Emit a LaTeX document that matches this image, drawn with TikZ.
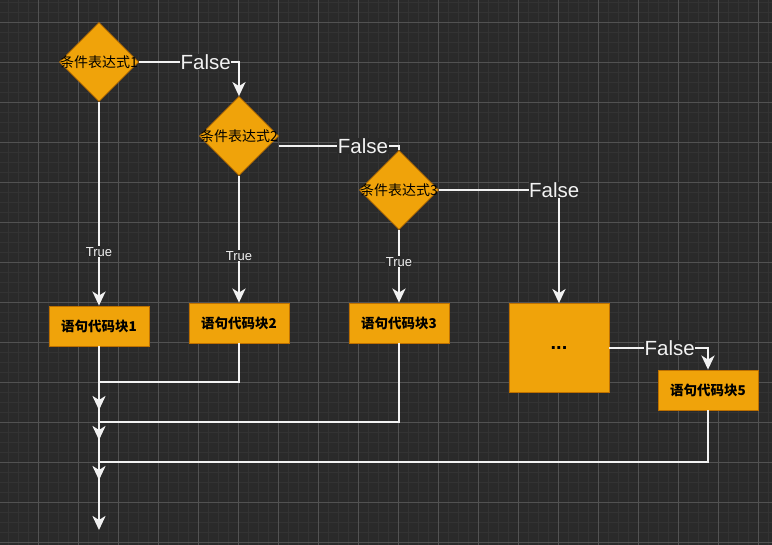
\documentclass[tikz,border=0pt]{standalone}
\usepackage{fontspec}
\setmainfont{Liberation Sans}
\newfontfamily\cjk{Noto Sans CJK SC}
\usepackage{tikz}
\usetikzlibrary{arrows.meta,shapes.geometric}

\definecolor{bg}{HTML}{2A2A2A}
\definecolor{gridminor}{HTML}{333333}
\definecolor{gridmajor}{HTML}{525252}
\definecolor{boxfill}{HTML}{F0A30A}
\definecolor{boxline}{HTML}{BD7000}
\definecolor{wire}{HTML}{F2F2F2}

\begin{document}
\begin{tikzpicture}[x=1pt,y=-1pt,>={Stealth[length=14pt,width=13pt,inset=4pt]},
  cond/.style={diamond,aspect=1,fill=boxfill,draw=boxline,line width=0.8pt,
    minimum width=79pt,minimum height=79pt,inner sep=0pt,font=\cjk\fontsize{14}{16}\selectfont},
  block/.style={rectangle,fill=boxfill,draw=boxline,line width=0.8pt,
    minimum width=100pt,minimum height=40pt,inner sep=0pt,font=\cjk\bfseries\fontsize{13.5}{15}\selectfont},
  flow/.style={->,draw=wire,line width=2.8pt},
  no/.style={fill=bg,text=wire,inner sep=0.5pt,font=\fontsize{20.5}{22}\selectfont},
  yes/.style={fill=bg,text=wire,inner sep=1pt,font=\fontsize{13}{15}\selectfont}]

  % canvas and grid
  \useasboundingbox (0,0) rectangle (772,545);
  \fill[bg] (0,0) rectangle (772,545);
  \foreach \gx in {8,18,...,768} \draw[gridminor,line width=0.6pt] (\gx,0) -- (\gx,545);
  \foreach \gy in {2,12,...,542} \draw[gridminor,line width=0.6pt] (0,\gy) -- (772,\gy);
  \foreach \gx in {38,78,...,758} \draw[gridmajor,line width=0.8pt] (\gx,0) -- (\gx,545);
  \foreach \gy in {22,62,...,542} \draw[gridmajor,line width=0.8pt] (0,\gy) -- (772,\gy);

  % conditions
  \node[cond] (c1) at (99,62) {\makebox[0pt]{条件表达式1}};
  \node[cond] (c2) at (239,136) {\makebox[0pt]{条件表达式2}};
  \node[cond] (c3) at (399,190) {\makebox[0pt]{条件表达式3}};

  % blocks
  \node[block] (b1) at (99,326) {语句代码块1};
  \node[block] (b2) at (239,323) {语句代码块2};
  \node[block] (b3) at (399,323) {语句代码块3};
  \node[block,minimum height=89pt,font=\bfseries\fontsize{20}{22}\selectfont] (b4) at (559,348) {...};
  \node[block] (b5) at (708,390) {语句代码块5};

  \coordinate (j2) at (99,382);
  \coordinate (j3) at (99,422);
  \coordinate (j5) at (99,462);
  \coordinate (m1) at (99,410);
  \coordinate (m2) at (99,440);
  \coordinate (m3) at (99,480);
  \coordinate (m4) at (99,530);

  % false branches
  \draw[flow] (c1.east) -| (c2.north) node[no,pos=0.334] {False};
  \draw[flow,-] ([yshift=-10pt]c2.east) -| (c3.north) node[no,pos=0.35] {False};
  \draw[flow] (c3.east) -| (b4.north) node[no,pos=0.48] {False};
  \draw[flow] (b4.east) -| (b5.north) node[no,pos=0.306] {False};

  % true branches
  \draw[flow] (c1) -- (b1) node[yes,pos=0.736] {True};
  \draw[flow] (c2) -- (b2) node[yes,pos=0.63] {True};
  \draw[flow] (c3) -- (b3) node[yes,pos=0.44] {True};

  % merge
  \draw[flow] (b1) -- (m1);
  \draw[flow] (b2) |- (j2) -- (m2);
  \draw[flow] (b3) |- (j3) -- (m3);
  \draw[flow] (b5) |- (j5) -- (m4);
\end{tikzpicture}
\end{document}
